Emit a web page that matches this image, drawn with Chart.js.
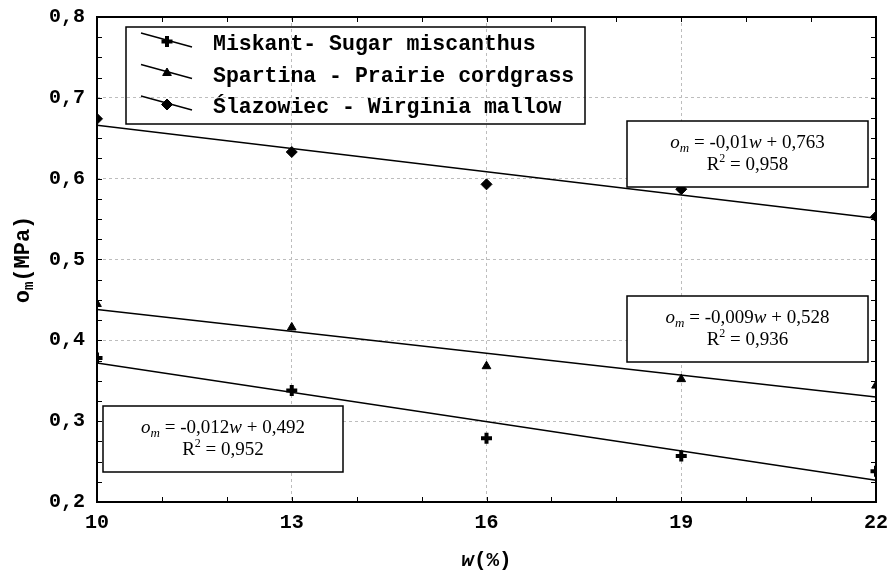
<!DOCTYPE html>
<html>
<head>
<meta charset="utf-8">
<script src="https://cdn.jsdelivr.net/npm/chart.js@4/dist/chart.umd.min.js"></script>
<style>
html,body{margin:0;padding:0;background:#fff;}
#wrap{width:893px;height:574px;position:relative;}
</style>
</head>
<body>
<div id="wrap"><canvas id="c" width="893" height="574"></canvas></div>
<script>
// ---- data ----
const wValues = [10, 13, 16, 19, 22];
const miskant = [0.378, 0.338, 0.279, 0.257, 0.238];
const spartina = [0.445, 0.416, 0.368, 0.352, 0.344];
const slazowiec = [0.674, 0.633, 0.593, 0.587, 0.553];
const trendW = [10, 22];
const miskantTrend = [0.372, 0.227];
const spartinaTrend = [0.438, 0.330];
const slazowiecTrend = [0.666, 0.551];
const seriesNames = ['Miskant- Sugar miscanthus', 'Spartina - Prairie cordgrass', 'Ślazowiec - Wirginia mallow'];
const eqSlopes = ['-0,012', '-0,009', '-0,01'];
const eqIntercepts = ['0,492', '0,528', '0,763'];
const eqR2 = ['0,952', '0,936', '0,958'];
const xTickValues = [10, 13, 16, 19, 22];
const yMin = 0.2, yMax = 0.8;

const pts = (xs, ys) => xs.map((x, i) => ({x: x, y: ys[i]}));
const markerStyles = ['cross', 'triangle', 'rectRot'];
const markerRadius = [5.5, 5, 5.5];
const markerBorder = [4, 1, 1];

const datasets = [];
[miskant, spartina, slazowiec].forEach((s, i) => {
  datasets.push({
    label: seriesNames[i], data: pts(wValues, s), showLine: false,
    pointStyle: markerStyles[i], pointRadius: markerRadius[i], pointBorderWidth: markerBorder[i],
    pointBackgroundColor: '#000', pointBorderColor: '#000'
  });
});
[miskantTrend, spartinaTrend, slazowiecTrend].forEach((s, i) => {
  datasets.push({
    label: 'trend ' + i, data: pts(trendW, s), showLine: true, pointRadius: 0,
    borderColor: '#000', borderWidth: 1.5, fill: false
  });
});

function richWidth(ctx, segs) {
  let w = 0;
  segs.forEach(s => { ctx.font = s.f; w += ctx.measureText(s.t).width; });
  return w;
}
function drawRich(ctx, segs, cx, baseY) {
  let x = cx - richWidth(ctx, segs) / 2;
  ctx.textAlign = 'left';
  ctx.textBaseline = 'alphabetic';
  segs.forEach(s => {
    ctx.font = s.f;
    ctx.fillText(s.t, x, baseY + (s.dy || 0));
    x += ctx.measureText(s.t).width;
  });
}

const SERIF = '"Liberation Serif", "Times New Roman", serif';
const MONO = '"Liberation Mono", "Courier New", monospace';

const decorPlugin = {
  id: 'decor',
  afterDatasetsDraw(chart) {
    const ctx = chart.ctx;
    const a = chart.chartArea;
    const xs = chart.scales.x, ys = chart.scales.y;
    ctx.save();
    ctx.strokeStyle = '#000';
    ctx.fillStyle = '#000';
    // minor/major inward ticks
    ctx.lineWidth = 1;
    ctx.beginPath();
    for (let v = yMin; v <= yMax + 1e-9; v += 0.025) {
      const py = Math.round(ys.getPixelForValue(v)) + 0.5;
      ctx.moveTo(a.left, py); ctx.lineTo(a.left + 5, py);
      ctx.moveTo(a.right, py); ctx.lineTo(a.right - 5, py);
    }
    for (let v = 10; v <= 22; v += 1) {
      const px = Math.round(xs.getPixelForValue(v)) + 0.5;
      ctx.moveTo(px, a.bottom); ctx.lineTo(px, a.bottom - 5);
      ctx.moveTo(px, a.top); ctx.lineTo(px, a.top + 5);
    }
    ctx.stroke();
    // frame
    ctx.lineWidth = 2;
    ctx.strokeRect(a.left, a.top, a.right - a.left, a.bottom - a.top);

    // equation boxes (white filled)
    const boxes = [
      {x: a.left + 6, y: 406, w: 240, h: 66, i: 0},
      {x: 627, y: 296, w: 241, h: 66, i: 1},
      {x: 627, y: 121, w: 241, h: 66, i: 2}
    ];
    boxes.forEach(b => {
      ctx.fillStyle = '#fff';
      ctx.fillRect(b.x, b.y, b.w, b.h);
      ctx.lineWidth = 1.5;
      ctx.strokeStyle = '#000';
      ctx.strokeRect(b.x, b.y, b.w, b.h);
      ctx.fillStyle = '#000';
      const cx = b.x + b.w / 2;
      drawRich(ctx, [
        {t: 'o', f: 'italic 19px ' + SERIF},
        {t: 'm', f: 'italic 13px ' + SERIF, dy: 4},
        {t: ' = ' + eqSlopes[b.i], f: '19px ' + SERIF},
        {t: 'w', f: 'italic 19px ' + SERIF},
        {t: ' + ' + eqIntercepts[b.i], f: '19px ' + SERIF}
      ], cx, b.y + 27);
      drawRich(ctx, [
        {t: 'R', f: '19px ' + SERIF},
        {t: '2', f: '12px ' + SERIF, dy: -8},
        {t: ' = ' + eqR2[b.i], f: '19px ' + SERIF}
      ], cx, b.y + 49);
    });

    // legend
    ctx.lineWidth = 1.5;
    ctx.strokeStyle = '#000';
    ctx.strokeRect(126, 27, 459, 97);
    const ly = [44, 75.5, 107];
    ly.forEach((y, i) => {
      ctx.lineWidth = 1.3;
      ctx.beginPath();
      ctx.moveTo(141, y - 11); ctx.lineTo(192, y + 3);
      ctx.stroke();
      ctx.fillStyle = '#000';
      ctx.lineWidth = markerBorder[i];
      Chart.helpers.drawPoint(ctx, {
        pointStyle: markerStyles[i], radius: markerRadius[i], borderWidth: markerBorder[i], rotation: 0
      }, 167, y - 2.5);
      ctx.font = 'bold 21.5px ' + MONO;
      ctx.textAlign = 'left';
      ctx.textBaseline = 'middle';
      ctx.fillText(seriesNames[i], 213, y + 1);
    });

    // axis titles
    ctx.fillStyle = '#000';
    drawRich(ctx, [
      {t: 'w', f: 'italic bold 21px ' + MONO},
      {t: '(%)', f: 'bold 21px ' + MONO}
    ], (a.left + a.right) / 2, 566);
    ctx.save();
    ctx.translate(29, (a.top + a.bottom) / 2);
    ctx.rotate(-Math.PI / 2);
    drawRich(ctx, [
      {t: 'o', f: 'bold 22px ' + MONO},
      {t: 'm', f: 'bold 14px ' + MONO, dy: 4},
      {t: '(MPa)', f: 'bold 22px ' + MONO}
    ], 0, 0);
    ctx.restore();
    ctx.restore();
  }
};

function zeroPad(s) { s.paddingTop = 0; s.paddingBottom = 0; s.paddingLeft = 0; s.paddingRight = 0; }

new Chart(document.getElementById('c'), {
  type: 'scatter',
  data: {datasets: datasets},
  options: {
    responsive: false,
    animation: false,
    devicePixelRatio: 1,
    layout: {padding: {left: 0, right: 17, top: 17, bottom: 0}},
    plugins: {legend: {display: false}, tooltip: {enabled: false}},
    scales: {
      x: {
        type: 'linear', min: 10, max: 22,
        afterBuildTicks: s => { s.ticks = xTickValues.map(v => ({value: v})); },
        afterFit: s => { s.height = 72; zeroPad(s); },
        grid: {color: '#bdbdbd', lineWidth: 1, drawTicks: false},
        border: {display: false, dash: [3, 3]},
        ticks: {color: '#000', padding: 9, maxRotation: 0, font: {family: 'Liberation Mono', weight: 'bold', size: 20},
                callback: v => String(v)}
      },
      y: {
        type: 'linear', min: yMin, max: yMax,
        ticks: {stepSize: 0.1, color: '#000', padding: 12, font: {family: 'Liberation Mono', weight: 'bold', size: 20},
                callback: v => v.toFixed(1).replace('.', ',')},
        afterFit: s => { s.width = 97; zeroPad(s); },
        grid: {color: '#bdbdbd', lineWidth: 1, drawTicks: false},
        border: {display: false, dash: [3, 3]}
      }
    }
  },
  plugins: [decorPlugin]
});
</script>
</body>
</html>
